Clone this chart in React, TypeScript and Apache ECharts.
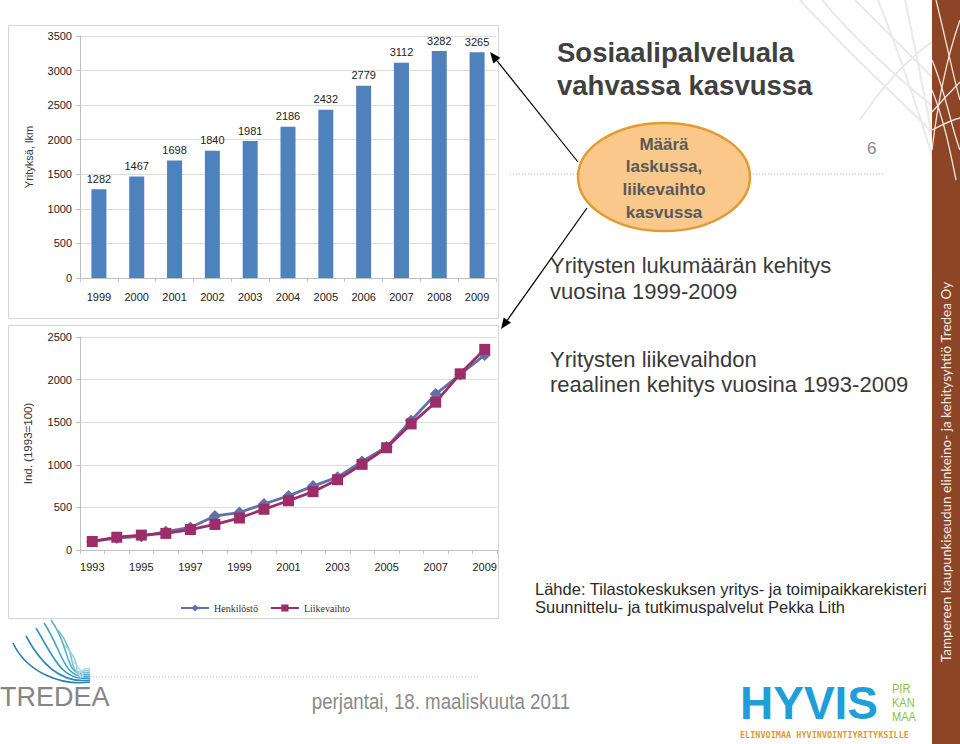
import React, { useEffect, useRef } from "react";
import * as echarts from "echarts";

const barYears = ["1999", "2000", "2001", "2002", "2003", "2004", "2005", "2006", "2007", "2008", "2009"];
const barValues = [1282, 1467, 1698, 1840, 1981, 2186, 2432, 2779, 3112, 3282, 3265];

const lineYears = ["1993", "1994", "1995", "1996", "1997", "1998", "1999", "2000", "2001", "2002", "2003", "2004", "2005", "2006", "2007", "2008", "2009"];
const henkilosto = [100, 140, 160, 215, 265, 400, 440, 540, 635, 750, 855, 1040, 1210, 1520, 1830, 2060, 2290];
const liikevaihto = [100, 150, 175, 195, 240, 300, 375, 478, 578, 685, 825, 1005, 1200, 1480, 1735, 2068, 2355];

const seriesNames = ["Henkilöstö", "Liikevaihto"];

const titleLines = ["Sosiaalipalveluala", "vahvassa kasvussa"];
const bubbleLines = ["Määrä", "laskussa,", "liikevaihto", "kasvussa"];
const text1 = ["Yritysten lukumäärän kehitys", "vuosina 1999-2009"];
const text2 = ["Yritysten liikevaihdon", "reaalinen kehitys vuosina 1993-2009"];
const sourceLines = ["Lähde: Tilastokeskuksen yritys- ja toimipaikkarekisteri", "Suunnittelu- ja tutkimuspalvelut Pekka Lith"];
const dateText = "perjantai, 18. maaliskuuta 2011";
const sideText = "Tampereen kaupunkiseudun elinkeino- ja kehitysyhtiö Tredea Oy";
const logoSmall = ["PIR", "KAN", "MAA"];

const FONT = "'Liberation Sans', Arial, Helvetica, sans-serif";

function txt(text: string, x: number, y: number, size: number, fill: string, opts: any = {}) {
  const style: any = {
    text,
    fill,
    fontSize: size,
    fontFamily: opts.family || FONT,
    fontWeight: opts.weight || "normal",
    align: opts.align || "left",
    textAlign: opts.align || "left",
    verticalAlign: "middle",
    textVerticalAlign: "middle",
  };
  const el: any = { type: "text", x, y, style, z: opts.z || 10 };
  if (opts.rotation) el.rotation = opts.rotation;
  if (opts.scaleX) el.scaleX = opts.scaleX;
  return el;
}

function arrow(sx: number, sy: number, tx: number, ty: number) {
  const dx = tx - sx, dy = ty - sy;
  const len = Math.sqrt(dx * dx + dy * dy);
  const ux = dx / len, uy = dy / len;
  const bx = tx - ux * 11, by = ty - uy * 11;
  const nx = -uy * 4.5, ny = ux * 4.5;
  return [
    { type: "line", shape: { x1: sx, y1: sy, x2: bx, y2: by }, style: { stroke: "#000", lineWidth: 1.2 }, z: 20 },
    { type: "polygon", shape: { points: [[tx, ty], [bx + nx, by + ny], [bx - nx, by - ny]] }, style: { fill: "#000" }, z: 20 },
  ];
}

function bez(x1: number, y1: number, c1x: number, c1y: number, c2x: number, c2y: number, x2: number, y2: number, stroke: string, w: number, z = 1) {
  return {
    type: "bezierCurve",
    shape: { x1, y1, cpx1: c1x, cpy1: c1y, cpx2: c2x, cpy2: c2y, x2, y2 },
    style: { stroke, lineWidth: w, fill: null },
    z,
  };
}

export default function App() {
  const ref = useRef<HTMLDivElement>(null);

  useEffect(() => {
    if (!ref.current) return;
    const chart = echarts.init(ref.current, undefined, { renderer: "svg" });

    const graphics: any[] = [];

    // top-right gray arcs
    const gray = "#e9e9e9";
    graphics.push(bez(800, 0, 850, 55, 895, 95, 935, 135, gray, 2));
    graphics.push(bez(822, 0, 860, 45, 900, 80, 935, 108, gray, 2));
    graphics.push(bez(855, 0, 885, 30, 910, 55, 935, 80, gray, 2));
    graphics.push(bez(878, 0, 898, 50, 918, 110, 935, 165, gray, 2));
    graphics.push(bez(905, 0, 915, 45, 925, 100, 935, 150, gray, 2));
    graphics.push(bez(935, 40, 905, 60, 880, 90, 860, 120, gray, 2));

    // brown side bar
    graphics.push({ type: "rect", shape: { x: 932, y: 0, width: 28, height: 744 }, style: { fill: "#8C4527" }, z: 2 });
    const wc = "#f3e4d8";
    graphics.push(bez(932, 60, 945, 90, 952, 130, 960, 150, wc, 1.3, 3));
    graphics.push(bez(932, 90, 944, 120, 950, 150, 956, 180, wc, 1.3, 3));
    graphics.push(bez(960, 20, 946, 60, 938, 100, 932, 150, wc, 1.3, 3));
    graphics.push(bez(932, 112, 941, 102, 950, 92, 960, 82, wc, 1.3, 3));
    graphics.push(bez(936, 0, 946, 40, 954, 80, 960, 100, wc, 1.3, 3));
    graphics.push(bez(932, 130, 942, 125, 951, 120, 960, 118, wc, 1.3, 3));
    graphics.push(txt(sideText, 946, 472, 13.5, "#f6ebe2", { family: "Lato, 'Open Sans', sans-serif", align: "center", rotation: Math.PI / 2 }));

    // chart boxes
    graphics.push({ type: "rect", shape: { x: 8.5, y: 25.5, width: 490, height: 293 }, style: { fill: "none", stroke: "#d4d4d4", lineWidth: 1 }, z: 1 });
    graphics.push({ type: "rect", shape: { x: 8.5, y: 325.5, width: 490, height: 293 }, style: { fill: "none", stroke: "#d4d4d4", lineWidth: 1 }, z: 1 });

    // title
    titleLines.forEach((t, i) => graphics.push(txt(t, 557, 52 + i * 33, 27.5, "#404040", { weight: "bold" })));

    // dotted separator
    graphics.push({ type: "line", shape: { x1: 510, y1: 174, x2: 883, y2: 174 }, style: { stroke: "#b8b8b8", lineWidth: 1, lineDash: [1, 2] }, z: 4 });
    graphics.push(txt("6", 867, 148, 17, "#8a8a8a"));

    // ellipse bubble
    graphics.push({ type: "ellipse", shape: { cx: 664, cy: 177, rx: 86, ry: 54 }, style: { fill: "#F9C88A", stroke: "#E39A32", lineWidth: 2.5 }, z: 6 });
    bubbleLines.forEach((t, i) => graphics.push(txt(t, 664, 144 + i * 22.7, 17, "#595959", { weight: "bold", align: "center" })));

    // arrows
    graphics.push(...arrow(578, 162, 490, 52));
    graphics.push(...arrow(587, 208, 501, 329));

    // right texts
    text1.forEach((t, i) => graphics.push(txt(t, 550, 265 + i * 26, 22, "#3a3a3a")));
    text2.forEach((t, i) => graphics.push(txt(t, 550, 359 + i * 25, 22, "#3a3a3a")));
    sourceLines.forEach((t, i) => graphics.push(txt(t, 535, 589 + i * 18, 16.5, "#2a2a2a")));

    // footer
    graphics.push({ type: "line", shape: { x1: 72, y1: 677, x2: 480, y2: 677 }, style: { stroke: "#bdbdbd", lineWidth: 1, lineDash: [1, 2] }, z: 4 });
    graphics.push(txt(dateText, 441, 701, 22, "#8a8a8a", { align: "center", scaleX: 0.85 }));

    // TREDEA logo
    const swoosh = [
      [13, 643, "#2B79B0"],
      [26, 636, "#2E88B8"],
      [36, 628, "#3396C0"],
      [44, 623, "#3FA6C6"],
      [51, 620, "#55B3CC"],
      [58, 630, "#76C2D4"],
      [65, 645, "#9CD1DC"],
      [72, 660, "#B8DDE4"],
    ];
    swoosh.forEach(([sx, sy, c]: any, i) => {
      graphics.push(bez(sx, sy, sx + 14 + i * 2, sy + 30, 62, 686 - i * 2, 90, 682 - i * 2, c, 1.6, 5));
    });
    graphics.push(txt("TREDEA", 0, 697, 27, "#858585"));

    // HYVIS logo
    graphics.push(txt("HYVIS", 740, 703, 46, "#1E9FD9", { weight: "bold" }));
    logoSmall.forEach((t, i) => graphics.push(txt(t, 892, 689 + i * 14, 13, "#8DBF3F", { scaleX: 0.85 })));
    graphics.push(txt("ELINVOIMAA HYVINVOINTIYRITYKSILLE", 740, 735, 8.5, "#E39A32", { weight: "bold", family: "'DejaVu Sans Mono', monospace" }));

    const axisGray = "#bfbfbf";
    const labelStyle = { color: "#222", fontSize: 11, fontFamily: FONT };
    const plain = (v: number) => String(v);

    chart.setOption({
      animation: false,
      backgroundColor: "#ffffff",
      grid: [
        { left: 80, top: 36, width: 416, height: 242 },
        { left: 80, top: 337, width: 417, height: 213 },
      ],
      legend: {
        data: seriesNames,
        left: 175,
        top: 598,
        itemWidth: 28,
        itemHeight: 9,
        itemGap: 12,
        textStyle: { fontFamily: "'Liberation Serif', serif", fontSize: 10, color: "#333" },
      },
      xAxis: [
        {
          type: "category",
          gridIndex: 0,
          data: barYears,
          axisLine: { lineStyle: { color: axisGray } },
          axisTick: { show: true, length: 4, lineStyle: { color: axisGray } },
          axisLabel: { ...labelStyle, margin: 13 },
        },
        {
          type: "category",
          gridIndex: 1,
          data: lineYears,
          axisLine: { lineStyle: { color: axisGray } },
          axisTick: { show: true, interval: 0, length: 4, lineStyle: { color: axisGray } },
          axisLabel: { ...labelStyle, interval: 1, margin: 11 },
        },
      ],
      yAxis: [
        {
          type: "value",
          gridIndex: 0,
          min: 0,
          max: 3500,
          interval: 500,
          name: "Yrityksä, lkm",
          nameLocation: "middle",
          nameGap: 46,
          nameTextStyle: { color: "#333", fontSize: 11, fontFamily: FONT },
          axisLine: { show: true, lineStyle: { color: axisGray } },
          axisTick: { show: true, length: 4, lineStyle: { color: axisGray } },
          splitLine: { lineStyle: { color: "#dcdcdc" } },
          axisLabel: { ...labelStyle, margin: 8, formatter: plain },
        },
        {
          type: "value",
          gridIndex: 1,
          min: 0,
          max: 2500,
          interval: 500,
          name: "Ind. (1993=100)",
          nameLocation: "middle",
          nameGap: 46,
          nameTextStyle: { color: "#333", fontSize: 11.5, fontFamily: FONT },
          axisLine: { show: true, lineStyle: { color: axisGray } },
          axisTick: { show: true, length: 4, lineStyle: { color: axisGray } },
          splitLine: { lineStyle: { color: "#dcdcdc" } },
          axisLabel: { ...labelStyle, margin: 8, formatter: plain },
        },
      ],
      series: [
        {
          type: "bar",
          xAxisIndex: 0,
          yAxisIndex: 0,
          data: barValues,
          barWidth: 15,
          itemStyle: { color: "#4F81BD" },
          label: { show: true, position: "top", distance: 5, color: "#222", fontSize: 11, fontFamily: FONT },
        },
        {
          type: "line",
          name: seriesNames[0],
          xAxisIndex: 1,
          yAxisIndex: 1,
          data: henkilosto,
          symbol: "diamond",
          symbolSize: 12,
          lineStyle: { width: 2.8, color: "#6270A8" },
          itemStyle: { color: "#6270A8" },
        },
        {
          type: "line",
          name: seriesNames[1],
          xAxisIndex: 1,
          yAxisIndex: 1,
          data: liikevaihto,
          symbol: "rect",
          symbolSize: 11,
          lineStyle: { width: 2.8, color: "#9C2D69" },
          itemStyle: { color: "#9C2D69" },
        },
      ],
      graphic: { elements: graphics },
    });

    return () => chart.dispose();
  }, []);

  return <div ref={ref} style={{ position: "absolute", left: 0, top: 0, width: 960, height: 744 }} />;
}
